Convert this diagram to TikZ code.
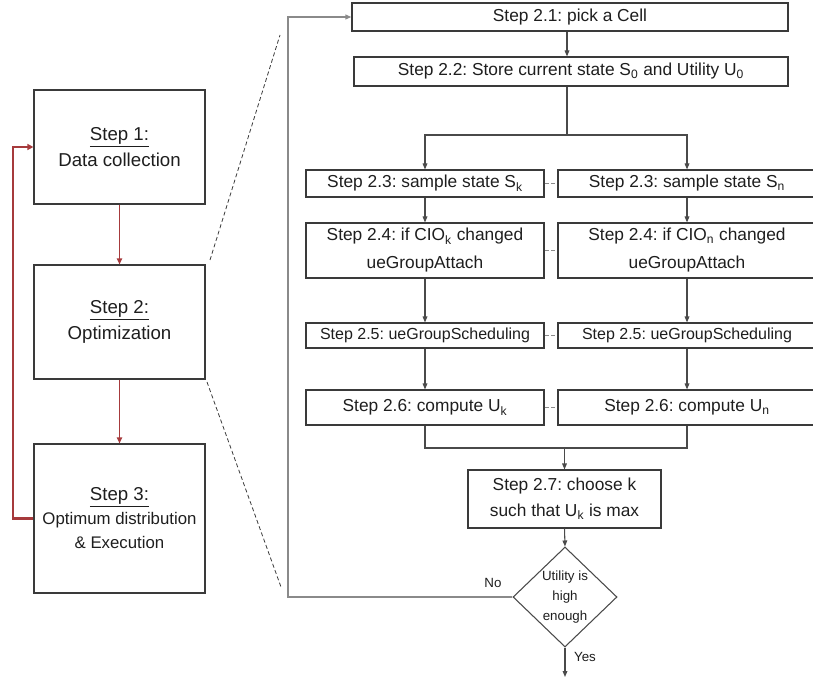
\documentclass[tikz,border=0pt]{standalone}
\usepackage{fontspec}
\setmainfont{Liberation Sans}
\usetikzlibrary{arrows.meta,shapes.geometric}
\definecolor{loopred}{HTML}{A63A3C}
\definecolor{boxline}{HTML}{3A3A3A}
\definecolor{lnk}{HTML}{4A4A4A}
\definecolor{loopgray}{HTML}{8A8A8A}
\definecolor{txt}{HTML}{1E1E1E}
\frenchspacing
\begin{document}
\begin{tikzpicture}[x=0.75pt,y=-0.75pt,
  every node/.style={text=txt},
  bigbox/.style={draw=boxline, line width=0.9pt, align=center, inner sep=0pt,
     minimum width=128.25pt, font=\fontsize{14}{19.5}\selectfont},
  stepbox/.style={draw=boxline, line width=0.8pt, align=center, inner sep=0pt,
     font=\fontsize{13}{21}\selectfont},
  redarr/.style={draw=loopred, line width=0.9pt, -{Triangle[length=4.5pt,width=4pt]}},
  redloop/.style={draw=loopred, line width=1.7pt, -{Triangle[length=4.5pt,width=4.5pt]}},
  arr/.style={draw=lnk, line width=0.8pt, -{Triangle[length=4.5pt,width=3.5pt]}},
  plain/.style={draw=lnk, line width=0.8pt},
  dots/.style={draw=loopgray, line width=0.6pt, densely dashed},
  zoomline/.style={draw=boxline, line width=0.6pt, densely dashed},
  lbl/.style={font=\fontsize{10}{12}\selectfont}
]
\useasboundingbox (0,0) rectangle (813,684);
\clip (0,0) rectangle (813,684);

% ---------- left column ----------
\node[bigbox, minimum height=85.5pt] (s1) at (119.5,147)
  {\underline{Step 1:}\\Data collection};
\node[bigbox, minimum height=85.5pt] (s2) at (119.5,322)
  {\underline{Step 2:}\\Optimization};
\node[bigbox, minimum height=111.75pt, font=\fontsize{12.6}{18}\selectfont] (s3) at (119.5,518.5)
  {{\fontsize{14}{18}\selectfont\underline{Step 3:}}\\Optimum distribution\\\& Execution};

\draw[redarr] (s1.south) -- (s2.north);
\draw[redarr] (s2.south) -- (s3.north);
\coordinate (rl) at (13,518.5);
\draw[redloop] (s3.west) -- (rl) |- (s1.west);

% zoom lines
\coordinate (z1a) at (210,260);
\coordinate (z1b) at (280,35);
\coordinate (z2a) at (207,382);
\coordinate (z2b) at (281,587);
\draw[zoomline] (z1a) -- (z1b);
\draw[zoomline] (z2a) -- (z2b);

% ---------- right flowchart ----------
\node[stepbox, minimum width=327pt, minimum height=21pt] (n21) at (570,17)
  {Step 2.1: pick a Cell};
\node[stepbox, minimum width=325.5pt, minimum height=21.75pt] (n22) at (571,71.5)
  {Step 2.2: Store current state S\textsubscript{0} and Utility U\textsubscript{0}};

\node[stepbox, minimum width=178.5pt, minimum height=20.25pt] (n23k) at (425,183.5)
  {Step 2.3: sample state S\textsubscript{k}};
\node[stepbox, minimum width=193.5pt, minimum height=20.25pt] (n23n) at (687,183.5)
  {Step 2.3: sample state S\textsubscript{n}};

\node[stepbox, minimum width=178.5pt, minimum height=41.25pt] (n24k) at (425,250.5)
  {Step 2.4: if CIO\textsubscript{k} changed\\ueGroupAttach};
\node[stepbox, minimum width=193.5pt, minimum height=41.25pt] (n24n) at (687,250.5)
  {Step 2.4: if CIO\textsubscript{n} changed\\ueGroupAttach};

\node[stepbox, minimum width=178.5pt, minimum height=18.75pt, font=\fontsize{12}{14}\selectfont] (n25k) at (425,335.5)
  {Step 2.5: ueGroupScheduling};
\node[stepbox, minimum width=193.5pt, minimum height=18.75pt, font=\fontsize{12}{14}\selectfont] (n25n) at (687,335.5)
  {Step 2.5: ueGroupScheduling};

\node[stepbox, minimum width=178.5pt, minimum height=26.25pt] (n26k) at (425,407.5)
  {Step 2.6: compute U\textsubscript{k}};
\node[stepbox, minimum width=193.5pt, minimum height=26.25pt] (n26n) at (687,407.5)
  {Step 2.6: compute U\textsubscript{n}};

\node[stepbox, minimum width=144.75pt, minimum height=43.5pt, font=\fontsize{13}{19.5}\selectfont] (n27) at (564.5,499)
  {Step 2.7: choose k\\such that U\textsubscript{k} is max};

\node[diamond, draw=lnk, line width=0.8pt, minimum width=78pt, minimum height=75pt, inner sep=0pt] (d) at (565,597) {};
\node[align=center, inner sep=0pt, font=\fontsize{10}{15}\selectfont] (dt) at (d.center) {Utility is\\high\\enough};

% dotted links between parallel branches
\draw[dots] (n23k.east) -- (n23n.west);
\draw[dots] (n24k.east) -- (n24n.west);
\draw[dots] (n25k.east) -- (n25n.west);
\draw[dots] (n26k.east) -- (n26n.west);

% connectors
\draw[arr] (n21.south -| 567,0) -- (n22.north -| 567,0);
\coordinate (sp) at (567,135);
\draw[plain] (n22.south -| sp) -- (sp);
\draw[arr] (sp) -| (n23k.north);
\draw[arr] (sp) -| (n23n.north);

\draw[arr] (n23k.south) -- (n24k.north);
\draw[arr] (n23n.south) -- (n24n.north);
\draw[arr] (n24k.south) -- (n25k.north);
\draw[arr] (n24n.south) -- (n25n.north);
\draw[arr] (n25k.south) -- (n26k.north);
\draw[arr] (n25n.south) -- (n26n.north);

\coordinate (mg) at (564.5,448);
\draw[plain] (n26k.south) |- (mg) -| (n26n.south);
\draw[arr] (mg) -- (n27.north);
\draw[arr] (n27.south) -- (d.north);

\coordinate (yesend) at (565,677);
\draw[arr] (d.south) -- (yesend);

\coordinate (lp) at (288,597);
\draw[draw=loopgray, line width=1.1pt, -{Triangle[length=4.5pt,width=3.5pt]}] (d.west) -- (lp) |- (n21.west);

\node[lbl] (no) at (493,583) {No};
\node[lbl] (yes) at (585,657) {Yes};
\end{tikzpicture}
\end{document}
